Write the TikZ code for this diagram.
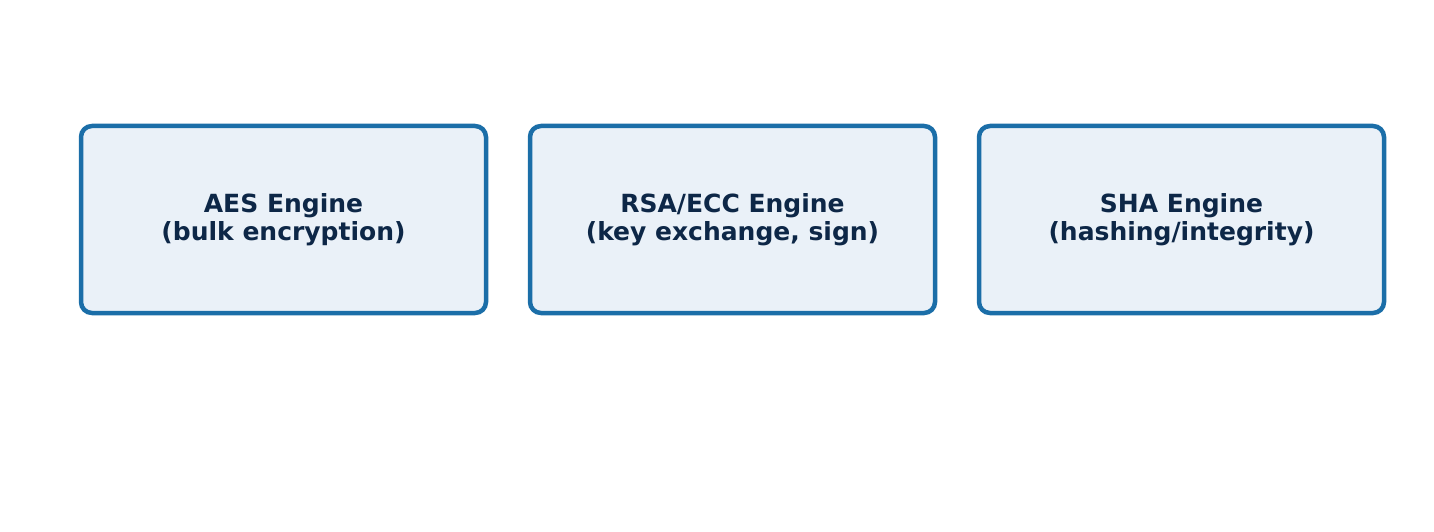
\documentclass[tikz,border=0pt]{standalone}
\usepackage{fontspec}
\setmainfont{DejaVu Sans}
\usepackage{xcolor}
\usetikzlibrary{positioning}
\definecolor{engineedge}{HTML}{1B6EA8}
\definecolor{enginefill}{HTML}{EAF1F8}
\definecolor{enginetext}{HTML}{0D2747}
\begin{document}
\begin{tikzpicture}[node distance=44pt, font=\bfseries\fontsize{25}{28}\selectfont]
		\tikzstyle{engine}=[draw=engineedge, fill=enginefill, text=enginetext, line width=4.5pt, rounded corners=11pt, rectangle, minimum width=405pt, minimum height=187pt, inner sep=0pt, outer sep=0pt, align=center]
		
		\useasboundingbox (0,0) rectangle (1434pt,-532pt);
		
		\node[engine] (aes) at (283.5pt,-219.5pt) {AES Engine\\(bulk encryption)};
		\node[engine, right = of aes] (rsa) {RSA/ECC Engine\\(key exchange, sign)};
		\node[engine, right = of rsa] (sha) {SHA Engine\\(hashing/integrity)};
	\end{tikzpicture}
\end{document}
